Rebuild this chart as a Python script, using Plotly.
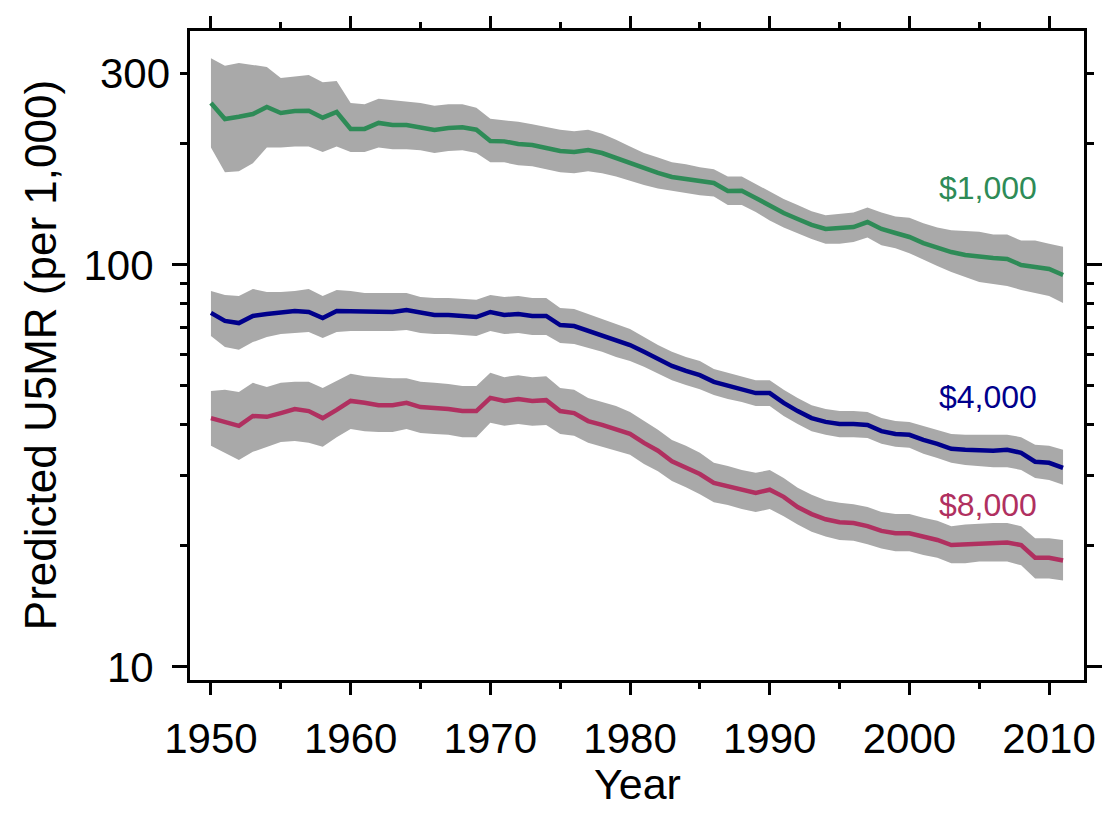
import math
import plotly.graph_objects as go

# Calendar years covered by the predictions
years = list(range(1950, 2012))

# Predicted under-five mortality rate (per 1,000) at three income levels,
# with the lower / upper bounds of the uncertainty band
u5mr_1000 = [253, 230.7, 233.8, 237.4, 247.2, 238.8, 241.6, 242, 232.5, 240.2,
             217.9, 218, 225.6, 222.9, 223, 220.4, 216.7, 219.2, 220, 217,
             203.5, 203, 200, 198.9, 195.5, 192.1, 191, 193.2, 189.9, 184.5,
             178.4, 173.4, 169.4, 165.6, 163.7, 161.8, 160, 152.8, 153, 146.8,
             140.2, 134.7, 130.1, 125.8, 122.9, 123.6, 124.3, 127.9, 122.9, 120.1,
             117.4, 113.4, 110.2, 107.7, 105.9, 104.7, 104.1, 103.5, 100, 98.9,
             97.7, 94.4]
u5mr_1000_hi = [327, 313, 318, 314, 311, 292, 295, 297, 285, 287,
                253, 251, 259, 257, 256, 253, 249, 251, 251, 246,
                231, 229, 227, 224, 220, 217, 215, 217, 212, 205,
                197, 190, 185, 180, 178, 175, 173, 166, 166, 159,
                152, 146, 141, 136, 133, 134, 135, 139, 135, 132,
                131, 127, 124, 122, 121.5, 121, 119, 119, 115, 115,
                113, 111]
u5mr_1000_lo = [196, 170, 171, 179, 196, 196, 197, 197, 191, 197,
                191, 191, 196, 194, 194, 193, 190, 192, 193, 190,
                180, 180, 177, 176, 173, 170, 169, 171, 169, 166,
                162, 158, 155, 153, 151, 149, 148, 141, 141, 135.5,
                129, 124, 120, 116, 113, 113, 114, 117, 112, 110,
                107, 103, 99.4, 96.1, 93.4, 90.7, 89.7, 88.7, 86.7, 85.2,
                83.7, 80.4]

u5mr_4000 = [76.0, 72.6, 71.7, 74.7, 75.5, 76.0, 76.8, 76.4, 73.8, 76.8,
             76.8, 76.4, 76.4, 76.4, 77.3, 76.0, 75.1, 75.1, 74.7, 74.2,
             76.4, 75.1, 75.5, 74.7, 74.7, 70.9, 70.5, 68.5, 67.0, 65.1,
             63.2, 60.8, 58.4, 56.1, 54.5, 53.2, 51.2, 50.0, 49.1, 48.0,
             48.0, 45.4, 43.3, 41.6, 40.7, 40.2, 40.2, 40.0, 38.6, 38.0,
             37.8, 36.7, 35.9, 34.9, 34.7, 34.5, 34.5, 34.7, 34.1, 32.4,
             32.2, 31.3]
u5mr_4000_hi = [86.1, 84.2, 83.7, 87.2, 85.7, 85.7, 86.1, 87.2, 83.7, 86.7,
                86.1, 85.2, 85.2, 85.2, 85.2, 83.3, 82.8, 82.8, 82.3, 81.9,
                84.2, 83.3, 83.7, 82.8, 82.8, 78.2, 77.7, 75.5, 73.4, 71.3,
                69.3, 66.2, 63.2, 60.8, 59.0, 57.7, 55.1, 53.9, 52.9, 51.7,
                51.7, 48.9, 46.7, 44.8, 43.8, 43.3, 43.3, 43.1, 41.6, 40.9,
                40.7, 39.8, 38.9, 38.0, 37.8, 37.8, 37.8, 37.8, 37.3, 35.7,
                35.5, 34.7]
u5mr_4000_lo = [66.6, 62.5, 61.5, 64.3, 66.2, 67.3, 67.7, 68.1, 65.8, 68.1,
                68.5, 68.5, 68.5, 68.5, 68.9, 67.7, 67.3, 67.3, 67.0, 66.6,
                68.5, 67.3, 67.7, 67.0, 67.0, 64.0, 63.6, 62.2, 60.8, 59.0,
                57.7, 55.8, 53.6, 51.7, 50.3, 49.1, 47.5, 46.4, 45.6, 44.6,
                44.6, 42.1, 40.2, 38.6, 37.8, 37.3, 37.3, 37.1, 35.9, 35.3,
                35.1, 33.9, 33.1, 32.2, 31.8, 31.6, 31.4, 31.4, 30.9, 29.5,
                29.2, 28.4]

u5mr_8000 = [41.6, 40.7, 39.8, 42.1, 41.9, 42.8, 43.8, 43.3, 41.6, 43.6,
             45.9, 45.4, 44.8, 44.8, 45.4, 44.3, 44.1, 43.8, 43.3, 43.3,
             46.7, 45.9, 46.4, 45.9, 46.1, 43.3, 42.8, 40.9, 40.0, 39.1,
             38.0, 36.1, 34.5, 32.5, 31.4, 30.2, 28.7, 28.2, 27.6, 27.1,
             27.6, 26.5, 25.0, 24.0, 23.3, 22.9, 22.8, 22.4, 21.8, 21.5,
             21.5, 21.1, 20.7, 20.1, 20.2, 20.3, 20.4, 20.4, 20.1, 18.7,
             18.7, 18.4]
u5mr_8000_hi = [48.6, 48.9, 48.3, 50.9, 49.7, 50.9, 51.2, 51.2, 49.4, 51.5,
                53.6, 52.9, 52.6, 52.3, 52.3, 51.2, 50.9, 50.6, 50.0, 50.0,
                53.9, 52.6, 53.2, 52.6, 52.9, 49.4, 48.9, 46.7, 45.6, 44.6,
                43.1, 40.9, 38.9, 36.7, 35.5, 34.1, 32.2, 31.6, 30.9, 30.4,
                30.9, 29.5, 27.9, 26.8, 26.0, 25.6, 25.4, 25.0, 24.3, 24.0,
                24.0, 23.5, 23.1, 22.4, 22.6, 22.7, 22.8, 22.8, 22.4, 20.9,
                20.9, 20.7]
u5mr_8000_lo = [35.5, 34.1, 32.7, 34.3, 35.3, 36.3, 36.5, 36.1, 35.3, 37.3,
                39.1, 38.6, 38.4, 38.4, 39.1, 38.2, 38.0, 37.8, 37.3, 37.3,
                40.5, 39.8, 40.2, 39.8, 40.0, 38.0, 37.6, 36.1, 35.3, 34.5,
                33.7, 32.0, 30.7, 29.0, 28.0, 26.9, 25.7, 25.3, 24.7, 24.3,
                24.7, 23.7, 22.6, 21.7, 21.1, 20.7, 20.6, 20.2, 19.7, 19.4,
                19.4, 19.0, 18.7, 18.1, 18.1, 18.3, 18.3, 18.3, 17.9, 16.6,
                16.6, 16.4]

# Series labels and where they sit (year, rate)
series_labels = ["$1,000", "$4,000", "$8,000"]
label_year = [2005.6, 2005.6, 2005.6]
label_rate = [155.4, 47.0, 25.3]

# Axis ticks
x_major = [1950, 1960, 1970, 1980, 1990, 2000, 2010]
x_minor = [1955, 1965, 1975, 1985, 1995, 2005]
y_major = [10, 100]
y_minor = [20, 30, 40, 50, 60, 70, 80, 90, 200, 300]
y_extra_label = 300

FONT = "Liberation Sans, Arial, Helvetica, sans-serif"
BAND = "#A9A9A9"
colors = ["#2E8B57", "#00008B", "#B03060"]

series = [
    (u5mr_1000, u5mr_1000_lo, u5mr_1000_hi),
    (u5mr_4000, u5mr_4000_lo, u5mr_4000_hi),
    (u5mr_8000, u5mr_8000_lo, u5mr_8000_hi),
]

fig = go.Figure()

# uncertainty bands
for mid, lo, hi in series:
    fig.add_trace(go.Scatter(x=years, y=hi, mode="lines", line=dict(width=0, color=BAND),
                             showlegend=False, hoverinfo="skip"))
    fig.add_trace(go.Scatter(x=years, y=lo, mode="lines", line=dict(width=0, color=BAND),
                             fill="tonexty", fillcolor=BAND, showlegend=False, hoverinfo="skip"))

# central predictions
for (mid, lo, hi), c, name in zip(series, colors, series_labels):
    fig.add_trace(go.Scatter(x=years, y=mid, mode="lines", name=name,
                             line=dict(width=4.5, color=c), showlegend=False))

# a hidden trace so the mirrored top/right tick axes are drawn
fig.add_trace(go.Scatter(x=[years[0]], y=[u5mr_1000[0]], xaxis="x2", yaxis="y2",
                         mode="markers", marker=dict(opacity=0), showlegend=False,
                         hoverinfo="skip"))

x_range = [1948.5, 2012.5]
y_range = [math.log10(9.28), math.log10(382)]

xcommon = dict(range=x_range, showgrid=False, zeroline=False, showline=True,
               linewidth=3, linecolor="black", ticks="outside", ticklen=12,
               tickwidth=3, tickcolor="black", tickvals=x_major,
               minor=dict(tickvals=x_minor, ticks="outside", ticklen=6,
                          tickwidth=3, tickcolor="black", showgrid=False))
ycommon = dict(type="log", range=y_range, showgrid=False, zeroline=False,
               showline=True, linewidth=3, linecolor="black", ticks="outside",
               ticklen=15, tickwidth=3, tickcolor="black", tickvals=y_major,
               ticktext=[str(v) for v in y_major],
               minor=dict(tickvals=y_minor, ticks="outside", ticklen=7,
                          tickwidth=3, tickcolor="black", showgrid=False))

fig.update_layout(
    width=1111, height=814,
    margin=dict(l=190, r=25, t=31, b=134),
    paper_bgcolor="white", plot_bgcolor="white",
    font=dict(family=FONT, color="black", size=42),
    xaxis=dict(**xcommon, ticktext=[str(v) for v in x_major],
               tickfont=dict(size=42, family=FONT), ticklabelstandoff=8),
    xaxis2=dict(**xcommon, overlaying="x", side="top", showticklabels=False),
    yaxis=dict(**ycommon, tickfont=dict(size=42, family=FONT), ticklabelstandoff=10),
    yaxis2=dict(**ycommon, overlaying="y", side="right", showticklabels=False),
)

annotations = []
# 300 label sits on a minor tick
annotations.append(dict(x=0, xref="paper", y=math.log10(y_extra_label), yref="y",
                        text=str(y_extra_label), showarrow=False, xanchor="right",
                        yanchor="middle", xshift=-18, font=dict(size=42, family=FONT)))
# axis titles
annotations.append(dict(x=0.5, xref="paper", y=-0.16, yref="paper", text="Year",
                        showarrow=False, xanchor="center", yanchor="middle",
                        font=dict(size=43, family=FONT)))
annotations.append(dict(x=-0.167, xref="paper", y=0.5, yref="paper",
                        text="Predicted U5MR (per 1,000)", textangle=-90,
                        showarrow=False, xanchor="center", yanchor="middle",
                        font=dict(size=44, family=FONT)))
# series labels
for name, yr, rate, c in zip(series_labels, label_year, label_rate, colors):
    annotations.append(dict(x=yr, y=math.log10(rate), xref="x", yref="y", text=name,
                            showarrow=False, xanchor="center", yanchor="middle",
                            font=dict(size=32, family=FONT, color=c)))
fig.update_layout(annotations=annotations)

fig.write_html("out.html")
